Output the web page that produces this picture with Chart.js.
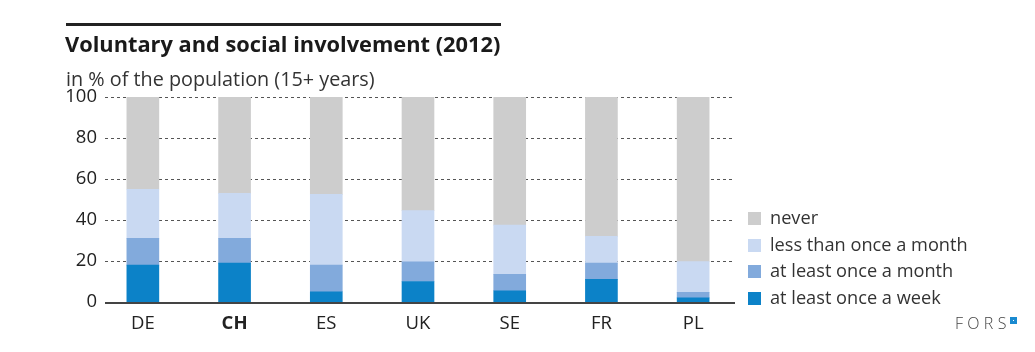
<!DOCTYPE html>
<html>
<head>
<meta charset="utf-8">
<script src="https://cdn.jsdelivr.net/npm/chart.js@4.4.1/dist/chart.umd.min.js"></script>
<style>
  html,body{margin:0;padding:0;background:#fff;}
  body{width:1035px;height:352px;position:relative;overflow:hidden;font-family:"Open Sans",sans-serif;color:#222;}
  #wrap{position:absolute;left:0;top:0;width:1035px;height:352px;}
  .rule{position:absolute;left:66px;top:23px;width:435px;height:3px;background:#222;}
  .title{position:absolute;left:65px;top:29px;font-size:21.8px;font-weight:bold;color:#1a1a1a;white-space:nowrap;}
  .sub{position:absolute;left:66px;top:65px;font-size:19.8px;color:#333;white-space:nowrap;}
  .legend{position:absolute;left:748px;top:204px;font-size:18.2px;color:#333;}
  .legend div{height:26.7px;line-height:26px;white-space:nowrap;}
  .legend span{display:inline-block;width:13px;height:13px;margin-right:9px;vertical-align:-1px;}
  .fors{position:absolute;left:955px;top:312px;font-size:16px;letter-spacing:4.3px;color:#444;font-weight:300;}
  .fors i{position:absolute;left:55px;top:5px;width:5px;height:5px;background:#1a8ad0;border:1px solid #1a8ad0;}
  .fors i:after{content:"";position:absolute;left:2px;top:2px;width:1px;height:1px;background:#fff;}
</style>
</head>
<body>
<div id="wrap"><canvas id="c" width="1035" height="352"></canvas></div>
<div class="rule"></div>
<div class="title">Voluntary and social involvement (2012)</div>
<div class="sub">in % of the population (15+ years)</div>
<div class="legend" id="legend"></div>
<div class="fors">FORS<i></i></div>
<script>
const categories = ["DE","CH","ES","UK","SE","FR","PL"];
const seriesNames = ["at least once a week","at least once a month","less than once a month","never"];
const weekly    = [18, 19, 5, 10, 5.5, 11, 2];
const monthly   = [13, 12, 13, 9.6, 8, 8, 2.7];
const lessMonth = [24, 22, 34.5, 25, 24, 13, 15];
const never     = [45, 47, 47.5, 55.4, 62.5, 68, 80.3];
const yTicks = [0, 20, 40, 60, 80, 100];
const colors = ["#0c82c8", "#82aadc", "#c9d9f2", "#cdcdcd"];
const seriesValues = [weekly, monthly, lessMonth, never];

const lg = document.getElementById('legend');
for (let i = seriesNames.length - 1; i >= 0; i--) {
  const d = document.createElement('div');
  d.innerHTML = '<span style="background:' + colors[i] + '"></span>' + seriesNames[i];
  lg.appendChild(d);
}

const gridPlugin = {
  id: 'dashGrid',
  beforeDatasetsDraw(chart) {
    const ctx = chart.ctx, y = chart.scales.y, a = chart.chartArea;
    ctx.save();
    ctx.strokeStyle = '#555';
    ctx.lineWidth = 1;
    ctx.setLineDash([3, 3]);
    yTicks.forEach(v => {
      if (v === 0) return;
      const py = Math.round(y.getPixelForValue(v)) + 0.5;
      ctx.beginPath();
      ctx.moveTo(a.left + 8, py);
      ctx.lineTo(a.right - 4, py);
      ctx.stroke();
    });
    ctx.restore();
  },
  afterDatasetsDraw(chart) {
    const ctx = chart.ctx, y = chart.scales.y, a = chart.chartArea;
    ctx.save();
    ctx.strokeStyle = '#444';
    ctx.lineWidth = 2;
    const py = y.getPixelForValue(0) + 1;
    ctx.beginPath();
    ctx.moveTo(a.left + 8, py);
    ctx.lineTo(a.right - 4, py);
    ctx.stroke();
    ctx.restore();
  }
};

new Chart(document.getElementById('c'), {
  type: 'bar',
  data: {
    labels: categories,
    datasets: seriesValues.map((vals, i) => ({
      label: seriesNames[i],
      data: vals,
      backgroundColor: colors[i],
      borderWidth: 0,
      barThickness: 32
    }))
  },
  options: {
    responsive: false,
    animation: false,
    events: [],
    layout: { padding: { left: 0, right: 296, top: 97, bottom: 0 } },
    plugins: { legend: { display: false }, tooltip: { enabled: false } },
    scales: {
      x: {
        stacked: true,
        grid: { display: false, drawTicks: false },
        border: { display: false },
        ticks: {
          padding: 11,
          color: '#222',
          font: ctx => ({ family: 'Open Sans', size: 18.5, weight: ctx.index === 1 ? 'bold' : 'normal' })
        },
        afterFit: s => { s.height = 50; }
      },
      y: {
        stacked: true,
        min: 0, max: 100,
        afterBuildTicks: s => { s.ticks = yTicks.map(v => ({ value: v })); },
        grid: { display: false, drawTicks: false },
        border: { display: false },
        ticks: { padding: 0, color: '#222', font: { family: 'Open Sans', size: 18.5 } },
        afterFit: s => { s.width = 97; }
      }
    }
  },
  plugins: [gridPlugin]
});
</script>
</body>
</html>
